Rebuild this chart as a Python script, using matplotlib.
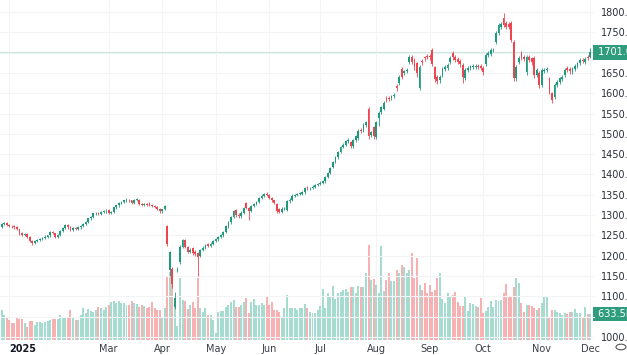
import matplotlib
matplotlib.use("Agg")
import matplotlib.pyplot as plt
import numpy as np
import pandas as pd

# --- daily candles, 23 Dec 2024 .. 1 Dec 2025 ---
HOLIDAYS = ["2024-12-25", "2025-01-01", "2025-01-09", "2025-01-20", "2025-02-17",
            "2025-04-18", "2025-05-26", "2025-06-19", "2025-07-04", "2025-09-01",
            "2025-11-27"]

opens = [
    1262, 1266, 1262, 1270, 1278, 1280, 1276, 1273, 1272, 1271,
    1266, 1255, 1251, 1253, 1246, 1236, 1232, 1236, 1239, 1241,
    1244, 1247, 1250, 1258, 1256, 1247, 1251, 1262, 1268, 1276,
    1270, 1264, 1268, 1266, 1270, 1274, 1278, 1283, 1292, 1296,
    1304, 1305, 1303, 1308, 1309, 1312, 1306, 1307, 1319, 1324,
    1330, 1333, 1336, 1338, 1336, 1331, 1337, 1338, 1328, 1325,
    1328, 1330, 1325, 1323, 1321, 1316, 1309, 1316, 1273, 1165,
    1167, 1075, 1166, 1185, 1222, 1238, 1222, 1210, 1220, 1210,
    1206, 1200, 1214, 1220, 1228, 1224, 1230, 1236, 1240, 1246,
    1250, 1258, 1272, 1282, 1296, 1313, 1300, 1298, 1306, 1330,
    1318, 1310, 1322, 1327, 1332, 1342, 1348, 1352, 1349, 1342,
    1336, 1328, 1314, 1308, 1316, 1312, 1334, 1338, 1348, 1350,
    1352, 1353, 1356, 1369, 1366, 1367, 1370, 1374, 1376, 1380,
    1383, 1394, 1404, 1418, 1431, 1442, 1456, 1468, 1473, 1482,
    1480, 1470, 1484, 1490, 1510, 1508, 1522, 1562, 1497, 1516,
    1492, 1540, 1555, 1562, 1588, 1588, 1588, 1592, 1618, 1625,
    1660, 1650, 1654, 1678, 1688, 1682, 1674, 1614, 1680, 1688,
    1692, 1692, 1707, 1665, 1640, 1632, 1645, 1660, 1663, 1677,
    1699, 1690, 1685, 1680, 1670, 1637, 1658, 1663, 1664, 1665,
    1668, 1668, 1662, 1672, 1694, 1696, 1706, 1726, 1748, 1762,
    1785, 1773, 1770, 1773, 1726, 1637, 1677, 1699, 1690, 1652,
    1690, 1686, 1687, 1645, 1650, 1620, 1655, 1657, 1637, 1600,
    1591, 1620, 1628, 1636, 1645, 1662, 1660, 1652, 1660, 1668,
    1674, 1682, 1678, 1690, 1690,
]
highs = [
    1269, 1268, 1272, 1281, 1283, 1282, 1279, 1276, 1275, 1273,
    1267, 1258, 1256, 1255, 1248, 1238, 1238, 1241, 1244, 1246,
    1250, 1252, 1260, 1261, 1257, 1253, 1264, 1270, 1278, 1278,
    1272, 1270, 1271, 1272, 1276, 1280, 1285, 1294, 1298, 1306,
    1308, 1308, 1310, 1312, 1314, 1314, 1310, 1321, 1326, 1332,
    1335, 1338, 1341, 1340, 1338, 1339, 1341, 1340, 1330, 1330,
    1331, 1332, 1328, 1326, 1323, 1318, 1316, 1325, 1276, 1212,
    1172, 1110, 1172, 1226, 1242, 1240, 1224, 1218, 1222, 1213,
    1210, 1216, 1223, 1229, 1231, 1233, 1239, 1243, 1249, 1253,
    1261, 1275, 1285, 1299, 1312, 1316, 1304, 1309, 1321, 1333,
    1320, 1325, 1330, 1335, 1345, 1351, 1354, 1356, 1351, 1344,
    1338, 1330, 1317, 1319, 1321, 1336, 1341, 1351, 1353, 1355,
    1356, 1359, 1369, 1371, 1370, 1373, 1377, 1379, 1383, 1386,
    1397, 1407, 1419, 1434, 1445, 1459, 1471, 1477, 1486, 1489,
    1483, 1487, 1497, 1512, 1514, 1526, 1532, 1566, 1508, 1520,
    1532, 1556, 1569, 1580, 1592, 1592, 1596, 1600, 1622, 1644,
    1665, 1658, 1663, 1694, 1693, 1686, 1678, 1669, 1685, 1692,
    1696, 1697, 1711, 1668, 1644, 1645, 1664, 1669, 1674, 1691,
    1703, 1694, 1689, 1684, 1674, 1661, 1666, 1670, 1671, 1672,
    1672, 1672, 1666, 1698, 1704, 1711, 1712, 1752, 1772, 1775,
    1797, 1778, 1775, 1777, 1730, 1669, 1691, 1703, 1694, 1694,
    1694, 1690, 1691, 1661, 1654, 1661, 1663, 1664, 1641, 1604,
    1624, 1632, 1641, 1644, 1661, 1666, 1664, 1664, 1672, 1678,
    1686, 1686, 1688, 1694, 1712,
]
lows = [
    1259, 1259, 1260, 1268, 1275, 1274, 1270, 1269, 1267, 1263,
    1252, 1248, 1248, 1243, 1233, 1227, 1229, 1233, 1236, 1238,
    1241, 1244, 1247, 1253, 1244, 1244, 1249, 1259, 1265, 1267,
    1261, 1261, 1263, 1263, 1267, 1271, 1275, 1280, 1289, 1293,
    1301, 1300, 1300, 1305, 1306, 1303, 1302, 1304, 1316, 1321,
    1327, 1330, 1333, 1333, 1328, 1328, 1334, 1325, 1322, 1322,
    1323, 1322, 1320, 1318, 1313, 1306, 1306, 1313, 1225, 1150,
    1120, 1068, 1160, 1180, 1218, 1218, 1206, 1206, 1202, 1200,
    1150, 1197, 1211, 1217, 1221, 1221, 1227, 1233, 1237, 1243,
    1247, 1255, 1269, 1279, 1293, 1296, 1294, 1294, 1303, 1314,
    1288, 1307, 1319, 1324, 1329, 1339, 1345, 1346, 1339, 1333,
    1327, 1306, 1305, 1305, 1313, 1309, 1331, 1335, 1345, 1347,
    1349, 1350, 1353, 1362, 1363, 1364, 1367, 1371, 1373, 1377,
    1380, 1391, 1401, 1415, 1428, 1439, 1453, 1464, 1469, 1478,
    1466, 1466, 1480, 1486, 1502, 1504, 1518, 1488, 1492, 1488,
    1487, 1520, 1550, 1558, 1579, 1580, 1583, 1588, 1606, 1620,
    1634, 1644, 1650, 1672, 1672, 1658, 1640, 1608, 1670, 1680,
    1684, 1682, 1668, 1628, 1622, 1626, 1640, 1655, 1658, 1672,
    1683, 1678, 1672, 1665, 1625, 1632, 1652, 1658, 1660, 1660,
    1659, 1657, 1646, 1668, 1690, 1692, 1701, 1722, 1744, 1757,
    1763, 1757, 1758, 1726, 1630, 1630, 1672, 1683, 1679, 1646,
    1677, 1670, 1638, 1640, 1614, 1615, 1650, 1652, 1598, 1576,
    1586, 1615, 1623, 1631, 1640, 1652, 1648, 1647, 1655, 1663,
    1669, 1675, 1673, 1681, 1686,
]
closes = [
    1266, 1262, 1270, 1278, 1280, 1276, 1273, 1272, 1270, 1266,
    1255, 1251, 1253, 1246, 1236, 1232, 1236, 1239, 1241, 1244,
    1247, 1250, 1258, 1256, 1247, 1251, 1262, 1268, 1276, 1270,
    1264, 1268, 1266, 1270, 1274, 1278, 1283, 1292, 1296, 1304,
    1305, 1303, 1308, 1309, 1311, 1306, 1307, 1319, 1324, 1330,
    1333, 1336, 1338, 1336, 1331, 1337, 1338, 1328, 1325, 1327,
    1326, 1325, 1323, 1321, 1316, 1310, 1314, 1322, 1229, 1208,
    1130, 1096, 1168, 1222, 1238, 1222, 1210, 1214, 1206, 1205,
    1198, 1214, 1220, 1226, 1224, 1230, 1236, 1240, 1246, 1250,
    1258, 1272, 1282, 1296, 1309, 1300, 1298, 1306, 1318, 1318,
    1310, 1322, 1327, 1332, 1342, 1348, 1351, 1349, 1342, 1336,
    1330, 1310, 1308, 1316, 1318, 1334, 1338, 1348, 1350, 1352,
    1353, 1356, 1366, 1366, 1367, 1370, 1374, 1376, 1380, 1383,
    1394, 1404, 1416, 1431, 1442, 1456, 1468, 1473, 1482, 1485,
    1470, 1484, 1494, 1508, 1506, 1522, 1528, 1494, 1504, 1494,
    1528, 1552, 1565, 1576, 1584, 1585, 1592, 1596, 1612, 1640,
    1640, 1654, 1658, 1690, 1678, 1665, 1650, 1665, 1676, 1686,
    1689, 1688, 1672, 1635, 1630, 1640, 1660, 1665, 1670, 1687,
    1688, 1683, 1678, 1672, 1640, 1657, 1662, 1666, 1667, 1668,
    1664, 1662, 1652, 1694, 1700, 1707, 1708, 1748, 1768, 1770,
    1768, 1762, 1764, 1731, 1637, 1665, 1687, 1688, 1684, 1690,
    1682, 1676, 1645, 1657, 1620, 1657, 1658, 1660, 1603, 1583,
    1620, 1628, 1637, 1640, 1657, 1658, 1654, 1660, 1668, 1674,
    1682, 1680, 1684, 1686, 1701,
]
volumes = [
    560, 660, 560, 730, 610, 540, 490, 415, 415, 540,
    510, 510, 415, 320, 460, 460, 370, 440, 440, 415,
    440, 460, 490, 510, 510, 510, 610, 560, 560, 560,
    730, 560, 490, 490, 610, 780, 660, 755, 710, 685,
    730, 805, 780, 730, 805, 855, 925, 950, 900, 950,
    900, 900, 855, 855, 950, 900, 880, 805, 855, 830,
    780, 805, 925, 780, 730, 730, 560, 780, 1560, 1660,
    1585, 975, 340, 1510, 975, 950, 755, 855, 925, 780,
    1510, 780, 685, 780, 610, 610, 490, 170, 685, 710,
    710, 805, 855, 925, 975, 805, 805, 855, 925, 1025,
    660, 925, 1000, 855, 855, 900, 855, 1050, 855, 925,
    730, 730, 685, 560, 780, 1100, 780, 780, 780, 730,
    780, 780, 880, 780, 685, 660, 660, 730, 830, 1245,
    780, 1145, 1075, 1320, 1000, 1145, 1170, 1220, 1245, 1170,
    1295, 1295, 1145, 1320, 1295, 1295, 1635, 2320, 1465, 1490,
    1340, 1145, 2295, 1195, 1465, 1635, 1440, 1440, 1710, 1635,
    1830, 1780, 1635, 1710, 2120, 1510, 2000, 1340, 1220, 1390,
    1145, 1340, 1170, 1220, 1510, 1635, 1000, 900, 1145, 1050,
    1100, 1170, 925, 830, 830, 1075, 710, 900, 880, 830,
    805, 1025, 660, 710, 805, 950, 805, 975, 950, 975,
    1145, 1365, 1050, 1050, 1295, 1510, 1390, 900, 685, 855,
    855, 830, 780, 730, 780, 900, 1050, 1050, 560, 730,
    730, 685, 660, 610, 660, 635, 685, 685, 755, 660,
    660, 540, 805, 635, 633.5,
]

PRICE_TICKS = list(range(1000, 1801, 50))
HIDDEN_TICKS = [1050, 1700]  # covered by the badges on the price scale
MONTH_LABELS = ["2025", "Mar", "Apr", "May", "Jun", "Jul", "Aug", "Sep", "Oct", "Nov", "Dec"]
MONTH_KEYS = ["2025-01", "2025-03", "2025-04", "2025-05", "2025-06", "2025-07",
              "2025-08", "2025-09", "2025-10", "2025-11", "2025-12"]

UP = "#1e9a7c"
DOWN = "#ee4550"
UP_VOL = "#a6dccf"
DOWN_VOL = "#f7b1b3"
GRID = "#f3f4f6"
TEXT = "#2a2e39"

dates = pd.bdate_range("2024-12-23", "2025-12-01", freq="C", holidays=HOLIDAYS)
n = len(closes)
idx = np.arange(n)
month_str = np.array([d.strftime("%Y-%m") for d in dates[:n]])
tick_pos = [int(np.argmax(month_str == k)) for k in MONTH_KEYS]

W, H = 627, 355
fig = plt.figure(figsize=(W / 100, H / 100), dpi=100)
fig.patch.set_facecolor("white")
rect = [0, 15 / H, 595 / W, 340 / H]

ax_vol = fig.add_axes(rect, zorder=0)
ax = fig.add_axes(rect, sharex=ax_vol, zorder=1)
ax.patch.set_visible(False)

# volume
o = np.array(opens); c = np.array(closes)
up = c >= o
vol_colors = np.where(up, UP_VOL, DOWN_VOL)
ax_vol.bar(idx, volumes, width=0.78, color=vol_colors, linewidth=0)
ax_vol.set_ylim(0, 340 * 24.37)
ax_vol.set_yticks([])
ax_vol.grid(axis="x", color=GRID, linewidth=0.8)
ax_vol.set_axisbelow(True)
for s in ax_vol.spines.values():
    s.set_visible(False)

# price grid + last price line
ax.grid(axis="y", color=GRID, linewidth=0.8, zorder=0)
ax.set_axisbelow(True)
ax.axhline(closes[-1], color="#cde8e1", lw=0.9, zorder=1)

# candles
colors = np.where(up, UP, DOWN)
ax.vlines(idx, lows, highs, colors=colors, linewidth=0.6, zorder=2)
body = np.maximum(np.abs(c - o), 1.6)
ax.bar(idx, body, bottom=np.minimum(o, c), width=0.7, color=colors, linewidth=0, zorder=3)

ax.set_xlim(6 / 2.548, 601 / 2.548)
ax.set_ylim(992.6, 1829.5)

ax.yaxis.tick_right()
ax.set_yticks(PRICE_TICKS)
ax.set_yticklabels(["" if p in HIDDEN_TICKS else f"{p:.2f}" for p in PRICE_TICKS])
ax.tick_params(axis="y", length=0, pad=4, labelsize=7, labelcolor=TEXT)
ax.set_xticks(tick_pos)
ax.set_xticklabels(MONTH_LABELS)
ax.tick_params(axis="x", length=0, pad=3, labelsize=7, labelcolor="#3a3e49")
first = ax.get_xticklabels()[0]
first.set_fontweight("bold")
first.set_horizontalalignment("left")
first.set_color("#131722")
ax_vol.tick_params(axis="x", length=0, labelbottom=False)
for s in ax.spines.values():
    s.set_visible(False)

# price / volume badges on the scale
ax.text(1.0, closes[-1], f" {closes[-1]:.2f}", transform=ax.get_yaxis_transform(),
        ha="left", va="center", fontsize=7, color="white",
        bbox=dict(boxstyle="square,pad=0.25", fc="#2f9c7e", ec="none"))
ax_vol.text(1.0, volumes[-1], f" {volumes[-1]:.1f}K", transform=ax_vol.get_yaxis_transform(),
            ha="left", va="center", fontsize=7, color="white",
            bbox=dict(boxstyle="square,pad=0.25", fc="#2f9c7e", ec="none"))

fig.patches.append(plt.Circle((621 / W, 8 / H), 5 / W, transform=fig.transFigure,
                              fill=False, ec="#555555", lw=0.8))

fig.savefig("out.png", dpi=100)
